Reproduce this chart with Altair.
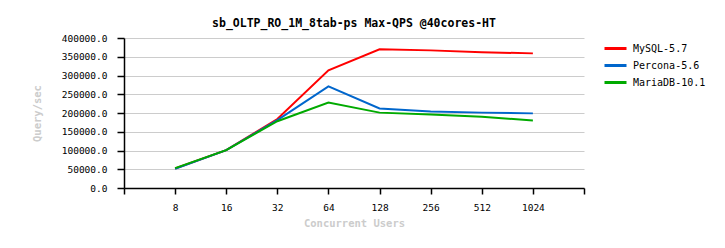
import altair as alt
import pandas as pd

users = ["8", "16", "32", "64", "128", "256", "512", "1024"]
mysql = [52000, 101000, 184000, 314000, 370000, 367000, 362000, 359000]
percona = [51000, 101000, 181000, 271000, 212000, 204000, 201000, 199000]
mariadb = [53000, 101000, 178000, 228000, 201000, 196000, 190000, 180000]
series = ["MySQL-5.7", "Percona-5.6", "MariaDB-10.1"]
colors = ["#ff0000", "#0066cc", "#00aa00"]

rows = []
for name, vals in zip(series, [mysql, percona, mariadb]):
    for i, (u, v) in enumerate(zip(users, vals)):
        rows.append({"idx": i + 1, "users": u, "qps": v, "engine": name})
df = pd.DataFrame(rows)

label_map = "{" + ",".join(f"'{i+1}':'{u}'" for i, u in enumerate(users)) + "}"
FONT = "DejaVu Sans Mono"

chart = alt.Chart(df).mark_line(strokeWidth=2).encode(
    x=alt.X("idx:Q",
            scale=alt.Scale(domain=[0, len(users) + 1], nice=False, zero=False),
            axis=alt.Axis(values=list(range(0, len(users) + 2)),
                          labelExpr=f"{label_map}[datum.value] || ''",
                          grid=False, tickSize=6, labelPadding=8,
                          title="Concurrent Users", titlePadding=7)),
    y=alt.Y("qps:Q",
            scale=alt.Scale(domain=[0, 400000], nice=False),
            axis=alt.Axis(values=list(range(0, 400001, 50000)), format=".1f",
                          tickSize=7, labelPadding=10, grid=True,
                          title="Query/sec", titlePadding=19)),
    color=alt.Color("engine:N",
                    scale=alt.Scale(domain=series, range=colors),
                    legend=alt.Legend(title=None, orient="none", legendX=479, legendY=2,
                                      symbolType="stroke", symbolSize=484,
                                      symbolStrokeWidth=3, labelOffset=5,
                                      rowPadding=0, padding=0, clipHeight=17)),
).properties(
    width=460, height=150,
    title=alt.TitleParams("sb_OLTP_RO_1M_8tab-ps Max-QPS @40cores-HT",
                          font=FONT, fontSize=11.5, fontWeight="bold",
                          color="#000000", anchor="middle", offset=4),
    autosize=alt.AutoSizeParams(type="none"),
    padding={"left": 124, "top": 38, "right": 141, "bottom": 60},
).configure_view(stroke=None).configure_axis(
    domainColor="#000000", tickColor="#000000", domainWidth=1.5, tickWidth=1.5,
    gridColor="#cccccc", gridWidth=1,
    labelFont=FONT, labelFontSize=9.5, labelColor="#000000",
    titleFont=FONT, titleFontSize=10.5, titleFontWeight="bold", titleColor="#cccccc",
).configure_legend(
    labelFont=FONT, labelFontSize=10, labelColor="#000000",
)

chart.save("out.html", embed_options={"renderer": "svg", "actions": False})
